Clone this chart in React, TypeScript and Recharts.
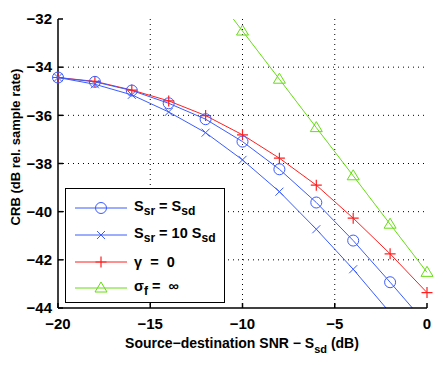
import React from 'react'
import { LineChart, Line, XAxis, YAxis, CartesianGrid } from 'recharts'

// source-destination SNR (dB)
const snr = [-20, -18, -16, -14, -12, -10, -8, -6, -4, -2, 0]
// CRB (dB rel. sample rate)
const ssrEqual = [-34.43, -34.61, -34.97, -35.5, -36.16, -37.09, -38.24, -39.62, -41.2, -42.93, -44.7]
const ssrTen = [-34.43, -34.71, -35.15, -35.86, -36.72, -37.85, -39.17, -40.73, -42.39, -44.2, -46.0]
const gammaZero = [-34.43, -34.59, -34.95, -35.4, -36.01, -36.81, -37.78, -38.9, -40.27, -41.75, -43.36]
const sigmaInf = [null, null, null, null, -30.5, -32.5, -34.5, -36.51, -38.51, -40.52, -42.52]

const xTicks = [-20, -15, -10, -5, 0]
const yTicks = [-44, -42, -40, -38, -36, -34, -32]

const BLUE = '#3a5cff'
const RED = '#ff1f1f'
const GREEN = '#66dd11'
const FONT = '"Liberation Sans", Arial, Helvetica, sans-serif'

const data = snr.map((x, i) => ({
  snr: x,
  ssrEqual: ssrEqual[i],
  ssrTen: ssrTen[i],
  gammaZero: gammaZero[i],
  sigmaInf: sigmaInf[i],
}))

const fmt = (v: number) => (v < 0 ? '\u2212' + Math.abs(v) : String(v))

const visible = (props: any, key: string) => {
  const v = props.payload ? props.payload[key] : null
  return v != null && v >= -44 && v <= -32
}

const circleDot = (key: string) => (props: any) => {
  if (!visible(props, key)) return <g key={props.index} />
  return <circle key={props.index} cx={props.cx} cy={props.cy} r={5.5} fill="none" stroke={BLUE} strokeWidth={1} />
}

const crossDot = (key: string) => (props: any) => {
  if (!visible(props, key)) return <g key={props.index} />
  const { cx, cy } = props
  const s = 4
  return (
    <path key={props.index} d={`M${cx - s},${cy - s}L${cx + s},${cy + s}M${cx - s},${cy + s}L${cx + s},${cy - s}`}
      stroke={BLUE} strokeWidth={1} fill="none" />
  )
}

const plusDot = (key: string) => (props: any) => {
  if (!visible(props, key)) return <g key={props.index} />
  const { cx, cy } = props
  const s = 5.5
  return (
    <path key={props.index} d={`M${cx - s},${cy}L${cx + s},${cy}M${cx},${cy - s}L${cx},${cy + s}`}
      stroke={RED} strokeWidth={1.2} fill="none" />
  )
}

const triDot = (key: string) => (props: any) => {
  if (!visible(props, key)) return <g key={props.index} />
  const { cx, cy } = props
  return (
    <path key={props.index} d={`M${cx},${cy - 6}L${cx + 6},${cy + 4}L${cx - 6},${cy + 4}Z`}
      stroke={GREEN} strokeWidth={1} fill="none" />
  )
}

const LegendSample: React.FC<{ color: string; marker: string }> = ({ color, marker }) => (
  <svg width={54} height={14} style={{ display: 'block' }}>
    <line x1={0} y1={7} x2={52} y2={7} stroke={color} strokeWidth={1} />
    {marker === 'o' && <circle cx={26} cy={7} r={5.5} fill="none" stroke={color} />}
    {marker === 'x' && <path d="M22,3L30,11M22,11L30,3" stroke={color} fill="none" />}
    {marker === '+' && <path d="M20.5,7L31.5,7M26,1.5L26,12.5" stroke={color} strokeWidth={1.2} fill="none" />}
    {marker === '^' && <path d="M26,1L32,11L20,11Z" stroke={color} fill="none" />}
  </svg>
)

const legendRows = [
  { color: BLUE, marker: 'o', label: <>S<sub>sr</sub> = S<sub>sd</sub></> },
  { color: BLUE, marker: 'x', label: <>S<sub>sr</sub> = 10 S<sub>sd</sub></> },
  { color: RED, marker: '+', label: <>{'\u03b3'}&nbsp; = &nbsp;0</> },
  { color: GREEN, marker: '^', label: <>{'\u03c3'}<sub>f</sub> = &nbsp;{'\u221e'}</> },
]

const App: React.FC = () => {
  return (
    <div style={{ position: 'absolute', left: 0, top: 0, width: 443, height: 365, background: '#fff', fontFamily: FONT }}>
      <LineChart width={443} height={365} data={data} margin={{ top: 19, right: 16, left: 0, bottom: 0 }}>
        <CartesianGrid stroke="#000" strokeDasharray="1 4" horizontalValues={[-42, -40, -38, -36, -34]}
          verticalValues={[-15, -10, -5]} />
        <XAxis dataKey="snr" type="number" domain={[-20, 0]} ticks={xTicks} tickFormatter={fmt}
          height={57} stroke="#000" strokeWidth={1.5} tickSize={-5} tickMargin={15}
          tick={{ fill: '#000', fontSize: 15, fontWeight: 'bold', fontFamily: FONT }}
          label={{ value: 'Source\u2212destination SNR \u2212 S_sd (dB)', content: () => (
            <text x={242} y={348} textAnchor="middle" fontSize={14} fontWeight="bold" fontFamily={FONT} fill="#000">
              Source{'\u2212'}destination SNR {'\u2212'} S
              <tspan dy={5} fontSize={11}>sd</tspan>
              <tspan dy={-5}> (dB)</tspan>
            </text>
          ) }} />
        <XAxis xAxisId="top" orientation="top" dataKey="snr" type="number" domain={[-20, 0]} ticks={xTicks}
          height={0} stroke="#000" strokeWidth={1.5} tickSize={-5} tickFormatter={() => ''} />
        <YAxis type="number" domain={[-44, -32]} ticks={yTicks} allowDataOverflow tickFormatter={fmt}
          width={58} stroke="#000" strokeWidth={1.5} tickSize={-5} tickMargin={11}
          tick={{ fill: '#000', fontSize: 15, fontWeight: 'bold', fontFamily: FONT }}
          label={{ value: 'CRB (dB rel. sample rate)', content: () => (
            <text x={20} y={147} transform="rotate(-90 20 147)" textAnchor="middle" fontSize={13}
              fontWeight="bold" fontFamily={FONT} fill="#000">CRB (dB rel. sample rate)</text>
          ) }} />
        <YAxis yAxisId="right" orientation="right" type="number" domain={[-44, -32]} ticks={yTicks}
          width={0} stroke="#000" strokeWidth={1.5} tickSize={-5} tickFormatter={() => ''} />
        <Line dataKey="sigmaInf" stroke={GREEN} strokeWidth={1} dot={triDot('sigmaInf')} activeDot={false}
          isAnimationActive={false} />
        <Line dataKey="gammaZero" stroke={RED} strokeWidth={1} dot={plusDot('gammaZero')} activeDot={false}
          isAnimationActive={false} />
        <Line dataKey="ssrTen" stroke={BLUE} strokeWidth={1} dot={crossDot('ssrTen')} activeDot={false}
          isAnimationActive={false} />
        <Line dataKey="ssrEqual" stroke={BLUE} strokeWidth={1} dot={circleDot('ssrEqual')} activeDot={false}
          isAnimationActive={false} />
      </LineChart>
      <div style={{
        position: 'absolute', left: 65, top: 188, width: 158, height: 113, border: '1.5px solid #000',
        background: '#fff', boxSizing: 'content-box',
      }}>
        {legendRows.map((r, i) => (
          <div key={i} style={{
            position: 'absolute', left: 9, top: [11, 38, 65, 91][i], height: 16, display: 'flex', alignItems: 'center',
          }}>
            <LegendSample color={r.color} marker={r.marker} />
            <span style={{ marginLeft: 5, fontSize: 14.5, fontWeight: 'bold', fontFamily: FONT, whiteSpace: 'nowrap', lineHeight: '16px' }}>
              {r.label}
            </span>
          </div>
        ))}
      </div>
    </div>
  )
}

export default App
